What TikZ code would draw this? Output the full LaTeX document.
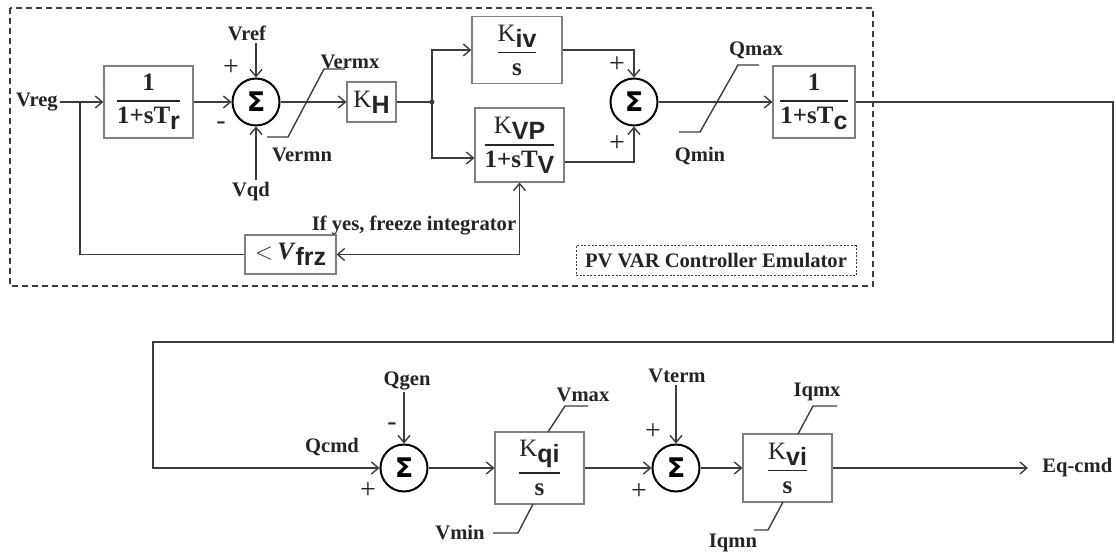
\documentclass[tikz,border=0pt]{standalone}
\usepackage{amsmath}
\usepackage{fontspec}
\setmainfont{Liberation Serif}
\setsansfont{Liberation Sans}
\newfontfamily\sumfont{DejaVu Sans}
\usetikzlibrary{arrows.meta}
\definecolor{wiregray}{HTML}{3C3C3C}
\definecolor{boxgray}{HTML}{808080}
\definecolor{txt}{HTML}{262320}
\newcommand{\lsub}[1]{\raisebox{-3pt}{\sffamily\bfseries #1}}
\newcommand{\tf}[2]{$\genfrac{}{}{0.8pt}{0}{\hbox{#1}}{\hbox{#2}}$}
\tikzset{
  blk/.style={draw=boxgray, line width=0.6pt, inner sep=0pt, text=txt, font=\fontsize{12.5}{14}\selectfont},
  sumnode/.style={circle, draw, line width=1pt, minimum size=23.5pt, inner sep=0pt, font=\sumfont\bfseries\fontsize{13.5}{13.5}\selectfont},
  lbl/.style={text=txt, font=\bfseries\fontsize{10.3}{12}\selectfont, inner sep=1pt},
  sgn/.style={text=txt, font=\fontsize{14}{14}\selectfont, inner sep=0pt},
  wire/.style={draw=wiregray, line width=0.7pt},
}
\begin{document}
\begin{tikzpicture}[x=0.5pt, y=-0.5pt, >={Straight Barb[length=3.5pt,width=6pt]}]
\useasboundingbox (0,0) rectangle (1116,555);
\draw[wiregray, line width=0.65pt, dash pattern=on 3pt off 2pt] (10,8) rectangle (873,286);

% PV VAR controller
\node[lbl] (vreg) at (37,102) {Vreg};
\coordinate (fbj) at (80,102);
\node[blk, minimum width=44.5pt, minimum height=36pt] (tr) at (148.5,102) {\tf{\textbf{1}}{\textbf{1+sT}\lsub{r}}};
\node[sumnode] (s1) at (256,102) {Σ};
\node[lbl] (vref) at (247,33) {Vref};
\node[lbl] (vqd) at (251,192) {Vqd};
\node[sgn] (s1p) at (231,68) {+};
\node[sgn] (s1m) at (221,126) {-};
\node[blk, minimum width=24.5pt, minimum height=20pt] (kh) at (371.5,102) {K\lsub{H}};
\node[lbl] (vermx) at (350,62) {Vermx};
\node[lbl] (vermn) at (302,155) {Vermn};
\coordinate (jn) at (432,102);
\node[blk, minimum width=45pt, minimum height=33.5pt] (kiv) at (517,50) {\tf{K\lsub{iv}}{\textbf{s}}};
\node[blk, minimum width=44.5pt, minimum height=37pt] (kvp) at (519.5,145) {\tf{K\lsub{VP}}{\textbf{1+sT}\lsub{V}}};
\node[sumnode] (s2) at (634,102) {Σ};
\node[sgn] (s2a) at (617,65) {+};
\node[sgn] (s2b) at (617,144) {+};
\node[lbl] (qmax) at (756,50) {Qmax};
\node[lbl] (qmin) at (700,156) {Qmin};
\node[blk, minimum width=41pt, minimum height=36pt] (tc) at (814,102) {\tf{\textbf{1}}{\textbf{1+sT}\lsub{c}}};
\node[blk, minimum width=45.5pt, minimum height=19.5pt] (vfrz) at (290.5,254.5) {$<$\,\textbf{\textit{V}}\lsub{frz}};
\node[lbl] (frz) at (414,226) {If yes, freeze integrator};
\node[draw=wiregray, dash pattern=on 1pt off 0.8pt, line width=0.5pt, minimum width=140pt, minimum height=15pt, inner sep=0pt, text=txt, font=\bfseries\fontsize{10.3}{12}\selectfont] (emu) at (716,261) {PV VAR Controller Emulator};

\draw[wire,->] (vreg) -- (tr);
\draw[wire,->] (tr) -- (s1);
\draw[wire,->] (vref.south -| s1.north) -- (s1.north);
\draw[wire,->] (vqd.north -| s1.south) -- (s1.south);
\draw[wire,->] (s1) -- (kh);
\draw[wire] (267,137) -- (288,137) -- (324,69) -- (345,69);
\draw[wire] (kh) -- (jn);
\fill[wiregray] (jn) circle (1.2pt);
\draw[wire,->] (jn) |- (kiv.west);
\draw[wire,->] (jn) |- ([yshift=-6.5pt]kvp.west);
\draw[wire,->] (kiv.east) -| (s2.north);
\draw[wire,->] ([yshift=-8.5pt]kvp.east) -| (s2.south);
\draw[wire,->] (s2) -- (tc);
\draw[wire] (679,132) -- (700,132) -- (738,65) -- (759,65);
\draw[wire,<->] (vfrz.east) -| (kvp.south);
\draw[wire] (vfrz.west) -| (fbj);

% reactive current loop
\coordinate (cr) at (1113,342);
\coordinate (cl) at (153,342);
\node[lbl] (qcmd) at (332,447) {Qcmd};
\node[sumnode] (s3) at (404,468) {Σ};
\node[lbl] (qgen) at (407,381) {Qgen};
\node[sgn] (s3m) at (392,427) {-};
\node[sgn] (s3p) at (368,491) {+};
\node[blk, minimum width=44.5pt, minimum height=36pt] (kqi) at (539.5,468) {\tf{K\lsub{qi}}{\textbf{s}}};
\node[lbl] (vmax) at (583,395) {Vmax};
\node[lbl] (vmin) at (460,533) {Vmin};
\node[sumnode] (s4) at (676,468) {Σ};
\node[lbl] (vterm) at (677,376) {Vterm};
\node[sgn] (s4a) at (653,432) {+};
\node[sgn] (s4b) at (639,492) {+};
\node[blk, minimum width=44.5pt, minimum height=34pt] (kvi) at (787.5,468) {\tf{K\lsub{vi}}{\textbf{s}}};
\node[lbl] (iqmx) at (817,392) {Iqmx};
\node[lbl] (iqmn) at (733,543) {Iqmn};
\node[lbl, anchor=west, inner xsep=7pt] (eq) at (1028,468) {Eq-cmd};

\draw[wire,->] (tc.east) -| (cr) -- (cl) |- (s3.west);
\draw[wire,->] (qgen.south -| s3.north) -- (s3.north);
\draw[wire,->] (s3) -- (kqi);
\draw[wire] (548,432) -- (565,406) -- (588,406);
\draw[wire] (533,504) -- (518,533) -- (493,533);
\draw[wire,->] (kqi) -- (s4);
\draw[wire,->] (vterm.south -| s4.north) -- (s4.north);
\draw[wire,->] (s4) -- (kvi);
\draw[wire] (798,434) -- (813,406) -- (837,406);
\draw[wire] (783,502) -- (768,530) -- (754,530);
\draw[wire,->] (kvi) -- (eq);
\end{tikzpicture}
\end{document}
